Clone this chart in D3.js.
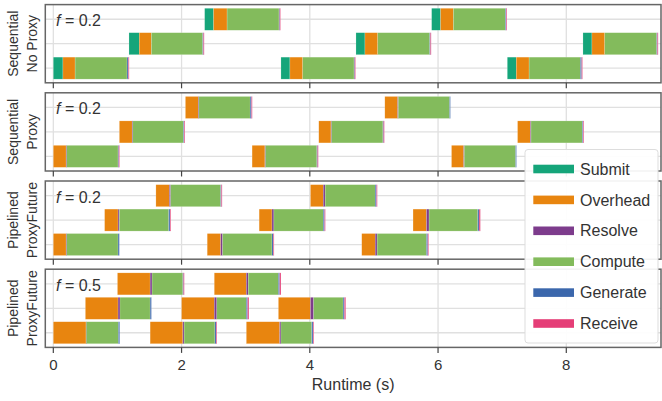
<!DOCTYPE html>
<html>
<head>
<meta charset="utf-8">
<script src="https://cdn.jsdelivr.net/npm/d3@7"></script>
<style>
  body { margin: 0; background: #fff; }
  text { font-family: "Liberation Sans", Arial, sans-serif; fill: #333; }
</style>
</head>
<body>
<div id="chart"></div>
<script>
// phases, in time order
const phases = ["Submit", "Overhead", "Resolve", "Compute", "Generate", "Receive"];
const phaseColors = ["#15a57a", "#e8850f", "#7d3c8c", "#83bb5c", "#3b67ac", "#e53e77"];

// one row per task: [start, submit, overhead, resolve, compute, generate, receive]
const seqNoProxy = [
    [0.00, 0.15, 0.19, 0.00, 0.81, 0.02, 0.01],
    [1.18, 0.16, 0.19, 0.00, 0.80, 0.01, 0.01],
    [2.36, 0.14, 0.21, 0.00, 0.81, 0.01, 0.01],
    [3.55, 0.14, 0.20, 0.00, 0.80, 0.01, 0.01],
    [4.72, 0.14, 0.20, 0.00, 0.81, 0.01, 0.01],
    [5.90, 0.14, 0.20, 0.00, 0.81, 0.01, 0.01],
    [7.08, 0.14, 0.20, 0.00, 0.80, 0.02, 0.01],
    [8.26, 0.14, 0.20, 0.00, 0.81, 0.01, 0.01]
];
const seqProxy = [
    [0.00, 0, 0.20, 0.01, 0.80, 0.01, 0.01],
    [1.03, 0, 0.20, 0.01, 0.79, 0.01, 0.01],
    [2.06, 0, 0.20, 0.01, 0.80, 0.02, 0.01],
    [3.10, 0, 0.20, 0.01, 0.80, 0.01, 0.01],
    [4.14, 0, 0.19, 0.01, 0.80, 0.01, 0.01],
    [5.17, 0, 0.20, 0.01, 0.80, 0.01, 0.00],
    [6.21, 0, 0.19, 0.01, 0.80, 0.01, 0.00],
    [7.24, 0, 0.20, 0.01, 0.80, 0.01, 0.01]
];
const pipelined02 = [
    [0.00, 0, 0.20, 0.01, 0.80, 0.02, 0.00],
    [0.80, 0, 0.21, 0.02, 0.77, 0.02, 0.01],
    [1.60, 0, 0.21, 0.02, 0.78, 0.01, 0.01],
    [2.40, 0, 0.21, 0.03, 0.77, 0.02, 0.01],
    [3.21, 0, 0.20, 0.03, 0.77, 0.02, 0.01],
    [4.01, 0, 0.20, 0.03, 0.78, 0.02, 0.01],
    [4.81, 0, 0.21, 0.03, 0.77, 0.02, 0.01],
    [5.61, 0, 0.21, 0.04, 0.76, 0.02, 0.02]
];
const pipelined05 = [
    [0.00, 0, 0.51, 0.005, 0.50, 0.02, 0.00],
    [0.50, 0, 0.51, 0.03, 0.47, 0.02, 0.00],
    [1.00, 0, 0.51, 0.03, 0.48, 0.01, 0.01],
    [1.51, 0, 0.51, 0.02, 0.48, 0.02, 0.01],
    [2.00, 0, 0.51, 0.04, 0.46, 0.02, 0.02],
    [2.51, 0, 0.50, 0.03, 0.47, 0.02, 0.02],
    [3.01, 0, 0.52, 0.02, 0.48, 0.02, 0.01],
    [3.51, 0, 0.50, 0.05, 0.46, 0.02, 0.02]
];

const panelData = [seqNoProxy, seqProxy, pipelined02, pipelined05];
const panelLabels = [["Sequential", "No Proxy"], ["Sequential", "Proxy"], ["Pipelined", "ProxyFuture"], ["Pipelined", "ProxyFuture"]];
const panelF = ["0.2", "0.2", "0.2", "0.5"];
const xTicks = [0, 2, 4, 6, 8];
const nRows = 3;

const width = 662, height = 401;
const left = 45.3, right = 661;
const panelTop = 4.6, panelH = 78.2, panelStep = 88.2;

const svg = d3.select("#chart").append("svg")
    .attr("width", width)
    .attr("height", height);

const x = d3.scaleLinear().domain([-0.125, 9.477]).range([left, right]);

panelData.forEach((tasks, p) => {
    const top = panelTop + p * panelStep;
    const y = d3.scaleLinear().domain([-0.6, nRows - 0.4]).range([top + panelH, top]);
    const g = svg.append("g");

    // grid
    g.selectAll(".vgrid").data(xTicks).enter().append("line")
        .attr("x1", d => x(d)).attr("x2", d => x(d))
        .attr("y1", top).attr("y2", top + panelH)
        .attr("stroke", "#e0e0e0").attr("stroke-width", 1.3);
    g.selectAll(".hgrid").data(d3.range(nRows)).enter().append("line")
        .attr("x1", left).attr("x2", right)
        .attr("y1", d => y(d)).attr("y2", d => y(d))
        .attr("stroke", "#e0e0e0").attr("stroke-width", 1.3);

    // bars: one rect per phase per task
    const segs = [];
    tasks.forEach((t, i) => {
        let s = t[0];
        for (let k = 0; k < phases.length; k++) {
            const dur = t[k + 1];
            if (dur > 0) segs.push({ row: i % nRows, x0: s, x1: s + dur, k: k });
            s += dur;
        }
    });
    const bh = y(0) - y(0.9);
    g.selectAll(".seg").data(segs).enter().append("rect")
        .attr("x", d => x(d.x0))
        .attr("width", d => Math.max(0.8, x(d.x1) - x(d.x0)))
        .attr("y", d => y(d.row) - bh / 2)
        .attr("height", bh)
        .attr("fill", d => phaseColors[d.k])
        .attr("stroke", "rgba(255,255,255,0.35)")
        .attr("stroke-width", 0.5);

    // frame
    g.append("rect")
        .attr("x", left).attr("y", top)
        .attr("width", right - left).attr("height", panelH)
        .attr("fill", "none").attr("stroke", "#666").attr("stroke-width", 1.5);

    // tick marks
    g.selectAll(".tick").data(xTicks).enter().append("line")
        .attr("x1", d => x(d)).attr("x2", d => x(d))
        .attr("y1", top + panelH).attr("y2", top + panelH + 5.5)
        .attr("stroke", "#444").attr("stroke-width", 1.2);

    // f label
    const ft = g.append("text")
        .attr("x", 56).attr("y", top + 21.5)
        .style("font-size", "16px");
    ft.append("tspan").style("font-style", "italic").text("f");
    ft.append("tspan").text(" = " + panelF[p]);

    // y label
    const cy = top + panelH / 2;
    panelLabels[p].forEach((lab, j) => {
        svg.append("text")
            .attr("transform", `translate(${13 + j * 19},${cy}) rotate(-90)`)
            .attr("text-anchor", "middle")
            .attr("dy", "0.35em")
            .style("font-size", "14px")
            .text(lab);
    });

    // tick labels on last panel only
    if (p === panelData.length - 1) {
        svg.selectAll(".tl").data(xTicks).enter().append("text")
            .attr("x", d => x(d))
            .attr("y", top + panelH + 23)
            .attr("text-anchor", "middle")
            .style("font-size", "15px")
            .text(d => d);
        svg.append("text")
            .attr("x", (left + right) / 2)
            .attr("y", top + panelH + 43)
            .attr("text-anchor", "middle")
            .style("font-size", "16px")
            .text("Runtime (s)");
    }
});

// legend
const lg = svg.append("g");
lg.append("rect")
    .attr("x", 525).attr("y", 149.5)
    .attr("width", 133).attr("height", 193.5)
    .attr("rx", 3)
    .attr("fill", "rgba(255,255,255,0.92)")
    .attr("stroke", "#ddd");
phases.forEach((ph, i) => {
    const cy = 169 + i * 30.9;
    lg.append("rect")
        .attr("x", 533.3).attr("y", cy - 4.3)
        .attr("width", 40.7).attr("height", 8.6)
        .attr("fill", phaseColors[i]);
    lg.append("text")
        .attr("x", 580).attr("y", cy)
        .attr("dy", "0.35em")
        .style("font-size", "16px")
        .text(ph);
});
</script>
</body>
</html>
